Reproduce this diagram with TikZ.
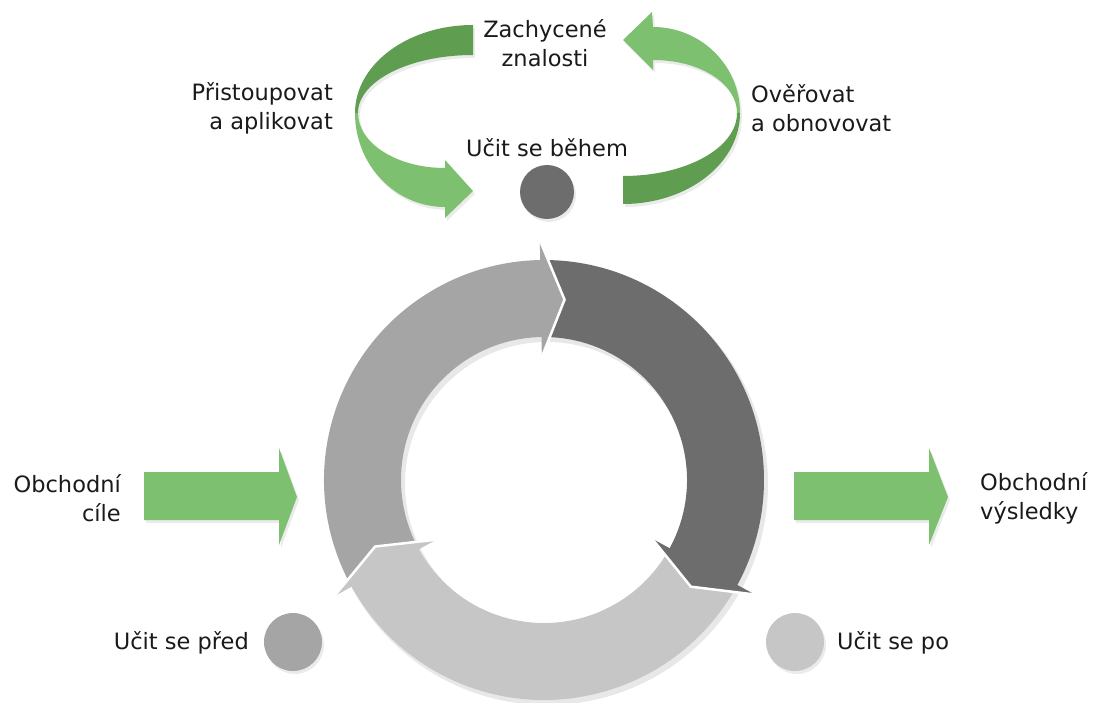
\documentclass[tikz,border=0pt]{standalone}
\usepackage{fontspec}
\setmainfont{DejaVu Sans}
\usetikzlibrary{shadows}
\definecolor{gmid}{HTML}{A5A5A5}
\definecolor{gdark}{HTML}{6D6D6D}
\definecolor{glight}{HTML}{C6C6C6}
\definecolor{grn}{HTML}{7DC170}
\definecolor{grnd}{HTML}{5F9D50}
\definecolor{txt}{HTML}{1A1A1A}
\begin{document}
\begin{tikzpicture}[x=1pt,y=-1pt,
  lbl/.style={font=\fontsize{22.5}{29}\selectfont, text=txt, inner sep=0pt},
  shd/.style={drop shadow={shadow xshift=2pt, shadow yshift=-3pt, opacity=0.16}},
  gap/.style={white, line width=2.5pt, line join=miter}]
\useasboundingbox (0,0) rectangle (1094,703);

% ---------- ring ----------
\begin{scope}[shift={(544,480)}, yscale=-1]
  \fill[black, opacity=0.09, even odd rule, shift={(3,-4)}] (0,0) circle[radius=221] (0,0) circle[radius=142];
  % bodies
  \fill[gmid] (207.5:220) arc[start angle=207.5, end angle=90.7, radius=220] -- (90.7:143) arc[start angle=90.7, end angle=207.5, radius=143] -- (202.55:181.5) -- cycle;
  \fill[gdark] (89.45:220) arc[start angle=89.45, end angle=-28.8, radius=220] -- (-28.8:143) arc[start angle=-28.8, end angle=89.45, radius=143] -- (84.5:181.5) -- cycle;
  \fill[glight] (-30.05:220) arc[start angle=-30.05, end angle=-151.3, radius=220] -- (-151.3:143) arc[start angle=-151.3, end angle=-30.05, radius=143] -- (-35:181.5) -- cycle;
  % heads
  \fill[gmid] (91:123) -- (91:240) -- (83.5:181.5) -- cycle;
  \draw[gap] (91:240) -- (83.5:181.5) -- (91:123);
  \fill[gdark] (-28.5:123) -- (-28.5:240) -- (-36:181.5) -- cycle;
  \draw[gap] (-28.5:240) -- (-36:181.5) -- (-28.5:123);
  \fill[glight] (-151:123) -- (-151:240) -- (-158.5:181.5) -- cycle;
  \draw[gap] (-151:240) -- (-158.5:181.5) -- (-151:123);
\end{scope}

% ---------- dots ----------
\fill[gdark, shd] (547,192) circle[radius=27];
\fill[gmid, shd] (293,642) circle[radius=29];
\fill[glight, shd] (795,642) circle[radius=29];

% ---------- straight green arrows ----------
\fill[grn, shd] (144,472) -- (279,472) -- (279,448) -- (297,497) -- (279,545) -- (279,520) -- (144,520) -- cycle;
\fill[grn, shd] (794,472) -- (929,472) -- (929,448) -- (948,497) -- (929,545) -- (929,520) -- (794,520) -- cycle;

% ---------- top ribbons ----------
% left ribbon: dark upper part
\fill[grnd, shd] (473,25) .. controls (407.8,25) and (355,64.4) .. (355,113) -- (358,113) .. controls (358,81) and (409.5,55) .. (473,55) -- cycle;
% left ribbon: light lower part with head
\fill[grn, shd] (355,113) .. controls (355,165) and (395.3,207) .. (445,207) -- (445,218) -- (473,191) -- (445,160) -- (445,168) .. controls (397,168) and (358,143.4) .. (358,113) -- cycle;
% right ribbon: light upper part with head
\fill[grn, shd] (653,27) .. controls (701,27) and (740,65.5) .. (740,113) -- (737,113) .. controls (737,83.7) and (700,60) .. (653,60) -- (653,70) -- (623,40) -- (652,12) -- cycle;
% right ribbon: dark lower part
\fill[grnd, shd] (740,113) .. controls (740,163.3) and (687.6,204) .. (623,204) -- (623,176) .. controls (686.5,176) and (737,147.8) .. (737,113) -- cycle;

% ---------- labels ----------
\node[lbl, align=center] (zach) at (545,43) {Zachycené\\znalosti};
\node[lbl, align=right, anchor=east] (pris) at (333,108) {Přistoupovat\\a aplikovat};
\node[lbl, align=left, anchor=west] (over) at (751,108) {Ověřovat\\a obnovovat};
\node[lbl, anchor=base] (behem) at (547,157) {Učit se během};
\node[lbl, align=right, anchor=east] (ocile) at (121,498) {Obchodní\\cíle};
\node[lbl, align=left, anchor=west] (ovysl) at (980,498) {Obchodní\\výsledky};
\node[lbl, anchor=base east] (pred) at (249,649) {Učit se před};
\node[lbl, anchor=base west] (po) at (837,649) {Učit se po};
\end{tikzpicture}
\end{document}
